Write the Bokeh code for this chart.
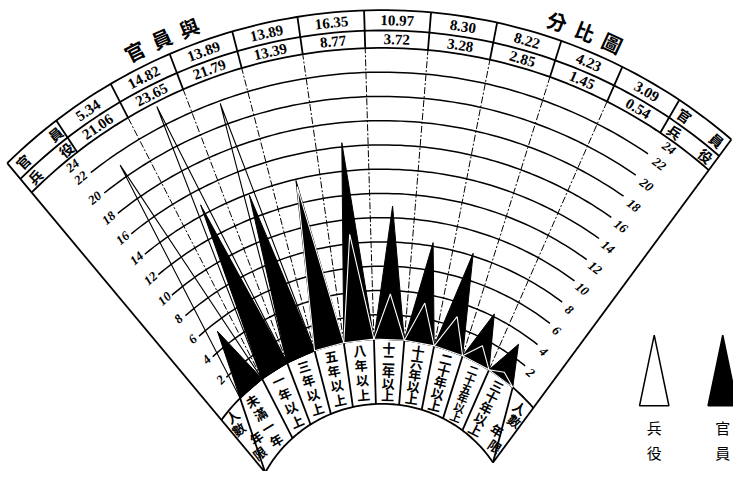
import numpy as np
from bokeh.plotting import figure
from bokeh.models import Range1d, ColumnDataSource
from bokeh.embed import file_html
from bokeh.resources import INLINE
from bokeh.core.properties import value

# ---------------- data ----------------
categories = ["未滿一年", "一年以上", "三年以上", "五年以上", "八年以上",
              "十二年以上", "十六年以上", "二十年以上", "二十五年以上", "三十年以上"]
officers = [5.34, 14.82, 13.89, 13.89, 16.35, 10.97, 8.30, 8.22, 4.23, 3.09]
soldiers = [21.06, 23.65, 21.79, 13.39, 8.77, 3.72, 3.28, 2.85, 1.45, 0.54]
tick_values = [2, 4, 6, 8, 10, 12, 14, 16, 18, 20, 22, 24]
title_left = ["官", "員", "與"]
title_right = ["分", "比", "圖"]
officer_name = ["官", "員"]
soldier_name = ["兵", "役"]
corner_count = ["人", "數"]
corner_years = ["年", "限"]

# ---------------- geometry ----------------
W, H = 749, 487
OX, OY = 390.0, -553.0      # centre of the arcs
PX, PY = 390.0, -633.0      # point where the radial lines meet
A0, DA, NCOL = 129.5, 6.3, 12
edges = [A0 - i * DA for i in range(NCOL + 1)]
R_IN, R0, K = 136.0, 203.0, 12.54
R24 = R0 + 24 * K
R_MID, R_TOP = 522.0, 543.0
AXIS_MID = (edges[0] + edges[-1]) / 2.0

CJK = "Noto Sans CJK TC"
SERIF = "Liberation Serif"


def rv(v):
    return R0 + K * np.asarray(v, dtype=float)


def pt(theta, R):
    th = np.radians(theta)
    ux, uy = np.cos(th), np.sin(th)
    dx, dy = PX - OX, PY - OY
    b = dx * ux + dy * uy
    c = dx * dx + dy * dy - R * R
    t = -b + np.sqrt(b * b - c)
    return PX + t * ux, PY + t * uy


def tdist(theta, R):
    x, y = pt(theta, R)
    return float(np.hypot(x - PX, y - PY))


def ray(theta, t):
    th = np.radians(theta)
    return PX + t * np.cos(th), PY + t * np.sin(th)


def arc(t1, t2, R, n=90):
    th = np.linspace(t1, t2, n)
    x, y = pt(th, R)
    return list(x), list(y)


def seg(th, R1, R2):
    x1, y1 = pt(th, R1)
    x2, y2 = pt(th, R2)
    return [float(x1), float(x2)], [float(y1), float(y2)]


def tan_angle(x, y):
    return float(np.arctan2(y - OY, x - OX) - np.pi / 2)


p = figure(width=733, height=471, x_range=Range1d(0, W), y_range=Range1d(-H, 0),
           output_backend="svg", toolbar_location=None, min_border=0,
           x_axis_location=None, y_axis_location=None)
p.grid.visible = False
p.outline_line_color = None
p.background_fill_color = "white"
p.border_fill_color = "white"

# ---------------- frame lines ----------------
solid_xs, solid_ys = [], []
for R in [R_TOP, R_MID, R24, R0, R_IN]:
    x, y = arc(edges[0], edges[-1], R)
    solid_xs.append(x); solid_ys.append(y)
for e in [edges[0], edges[-1]]:
    x, y = seg(e, R_IN, R_TOP)
    solid_xs.append(x); solid_ys.append(y)
for e in edges[1:-1]:
    x, y = seg(e, R24, R_TOP)
    solid_xs.append(x); solid_ys.append(y)
for e in edges[2:-2]:
    x, y = seg(e, R_IN, R0)
    solid_xs.append(x); solid_ys.append(y)
# corner diagonals
for e_in, e_out in [(edges[1], edges[0]), (edges[-2], edges[-1])]:
    x1, y1 = pt(e_in, R0)
    x2, y2 = pt(e_out, R_IN)
    solid_xs.append([float(x1), float(x2)]); solid_ys.append([float(y1), float(y2)])
p.multi_line(solid_xs, solid_ys, line_color="black", line_width=1.8)

grid_xs, grid_ys = [], []
for v in tick_values[:-1]:
    x, y = arc(edges[1], edges[-2], float(rv(v)))
    grid_xs.append(x); grid_ys.append(y)
p.multi_line(grid_xs, grid_ys, line_color="black", line_width=1.5)

dash_xs, dash_ys = [], []
for e in edges[2:-2]:
    x, y = seg(e, R0, R24)
    dash_xs.append(x); dash_ys.append(y)
p.multi_line(dash_xs, dash_ys, line_color="black", line_width=1.0, line_dash="7 2 2 2")

# ---------------- spikes ----------------
centres = [(edges[i + 1] + edges[i + 2]) / 2 for i in range(len(categories))]


def spikes(vals):
    xs, ys = [], []
    for i, v in enumerate(vals):
        xl, yl = pt(edges[i + 1], R0)
        xr, yr = pt(edges[i + 2], R0)
        xa, ya = pt(centres[i], float(rv(v)))
        xs.append([float(xl), float(xa), float(xr)])
        ys.append([float(yl), float(ya), float(yr)])
    return xs, ys


bx, by = spikes(officers)
p.patches(bx, by, fill_color="black", line_color="black", line_width=1)
wx, wy = spikes(soldiers)
wcol = ["white" if s < o else "black" for s, o in zip(soldiers, officers)]
p.patches(xs="xs", ys="ys", source=ColumnDataSource(dict(xs=wx, ys=wy, c=wcol)),
          fill_alpha=0, line_color="c", line_width=1.1)


# ---------------- texts ----------------
def put_text(xs, ys, texts, angles, font, size, style="bold"):
    src = ColumnDataSource(dict(x=xs, y=ys, t=texts, a=angles))
    p.text(x="x", y="y", text="t", angle="a", source=src, text_font=value(font),
           text_font_size=size, text_font_style=style, text_color="black",
           text_align="center", text_baseline="middle")


# header values
hx, hy, ht, ha = [], [], [], []
for i in range(len(categories)):
    for v, R in [(officers[i], (R_MID + R_TOP) / 2), (soldiers[i], (R24 + R_MID) / 2)]:
        x, y = pt(centres[i], R)
        hx.append(float(x)); hy.append(float(y)); ht.append(f"{v:.2f}")
        ha.append(tan_angle(x, y))
put_text(hx, hy, ht, ha, SERIF, "15px")

# axis numbers
nx, ny, nt, na = [], [], [], []
for v in tick_values:
    for th, dr in [(124.4, 2.0), (58.6, -2.0)]:
        R = float(rv(v)) + dr if v < 24 else R24 - 8
        x, y = pt(th, R)
        nx.append(float(x)); ny.append(float(y)); nt.append(str(v)); na.append(tan_angle(x, y))
put_text(nx, ny, nt, na, SERIF, "13px", "bold italic")

# header name cells
cx, cy, ct, ca = [], [], [], []
for (th_a, th_b) in [(128.2, 124.0), (59.0, 55.0)]:
    for chars, R in [(officer_name, (R_MID + R_TOP) / 2), (soldier_name, (R24 + R_MID) / 2)]:
        for ch, th in zip(chars, [th_a, th_b]):
            x, y = pt(th, R)
            cx.append(float(x)); cy.append(float(y)); ct.append(ch); ca.append(tan_angle(x, y))
put_text(cx, cy, ct, ca, CJK, "14px")

# category labels (vertical text along each column)
for i, cat in enumerate(categories):
    th = centres[i] + (1.2 if i == 0 else 0.0)
    t_top = tdist(th, R0) - 3
    t_bot = tdist(th, R_IN) + 3
    n = len(cat)
    step = (t_top - t_bot) / n
    xs, ys, ts, an = [], [], [], []
    for j, ch in enumerate(cat):
        x, y = ray(th, t_top - (j + 0.5) * step)
        xs.append(float(x)); ys.append(float(y)); ts.append(ch); an.append(float(np.radians(th - 90)))
    put_text(xs, ys, ts, an, CJK, "13px" if n <= 5 else "11px")

# corner labels 人數 / 年限
kx, ky, kt, ka = [], [], [], []
for side in [1, -1]:
    for chars, ths, ts in [(corner_count, [127.0, 127.7], [254, 240]),
                           (corner_years, [125.4, 127.2], [222, 207])]:
        for ch, th, t in zip(chars, ths, ts):
            thh = th if side == 1 else 2 * AXIS_MID - th
            x, y = ray(thh, t)
            kx.append(float(x)); ky.append(float(y)); kt.append(ch)
            ka.append(float(np.radians(thh - 90)))
put_text(kx, ky, kt, ka, CJK, "13px")

# title along the arc
TR = 561.0
tx, ty, tt, ta = [], [], [], []
for chars, phis in [(title_left, [116.8, 113.7, 110.6]), (title_right, [71.4, 68.3, 65.2])]:
    for ch, phi in zip(chars, phis):
        x = OX + TR * np.cos(np.radians(phi))
        y = OY + TR * np.sin(np.radians(phi))
        tx.append(float(x)); ty.append(float(y)); tt.append(ch); ta.append(float(np.radians(phi - 90)))
put_text(tx, ty, tt, ta, CJK, "20px")

# ---------------- legend ----------------
LEG_TOP, LEG_BASE, LEG_HALF = -346.0, -419.0, 15.0
leg_white_x, leg_black_x = 668.0, 738.0
p.patch([leg_white_x, leg_white_x - LEG_HALF, leg_white_x + LEG_HALF],
        [LEG_TOP, LEG_BASE, LEG_BASE], fill_color="white", line_color="black", line_width=1.5)
p.patch([leg_black_x, leg_black_x - LEG_HALF, leg_black_x + LEG_HALF],
        [LEG_TOP, LEG_BASE, LEG_BASE], fill_color="black", line_color="black", line_width=1.5)
put_text([leg_white_x, leg_white_x, leg_black_x, leg_black_x], [-441.0, -467.0, -441.0, -467.0],
         soldier_name + officer_name, [0.0] * 4, CJK, "15px", "normal")

open("out.html", "w").write(file_html(p, INLINE))
